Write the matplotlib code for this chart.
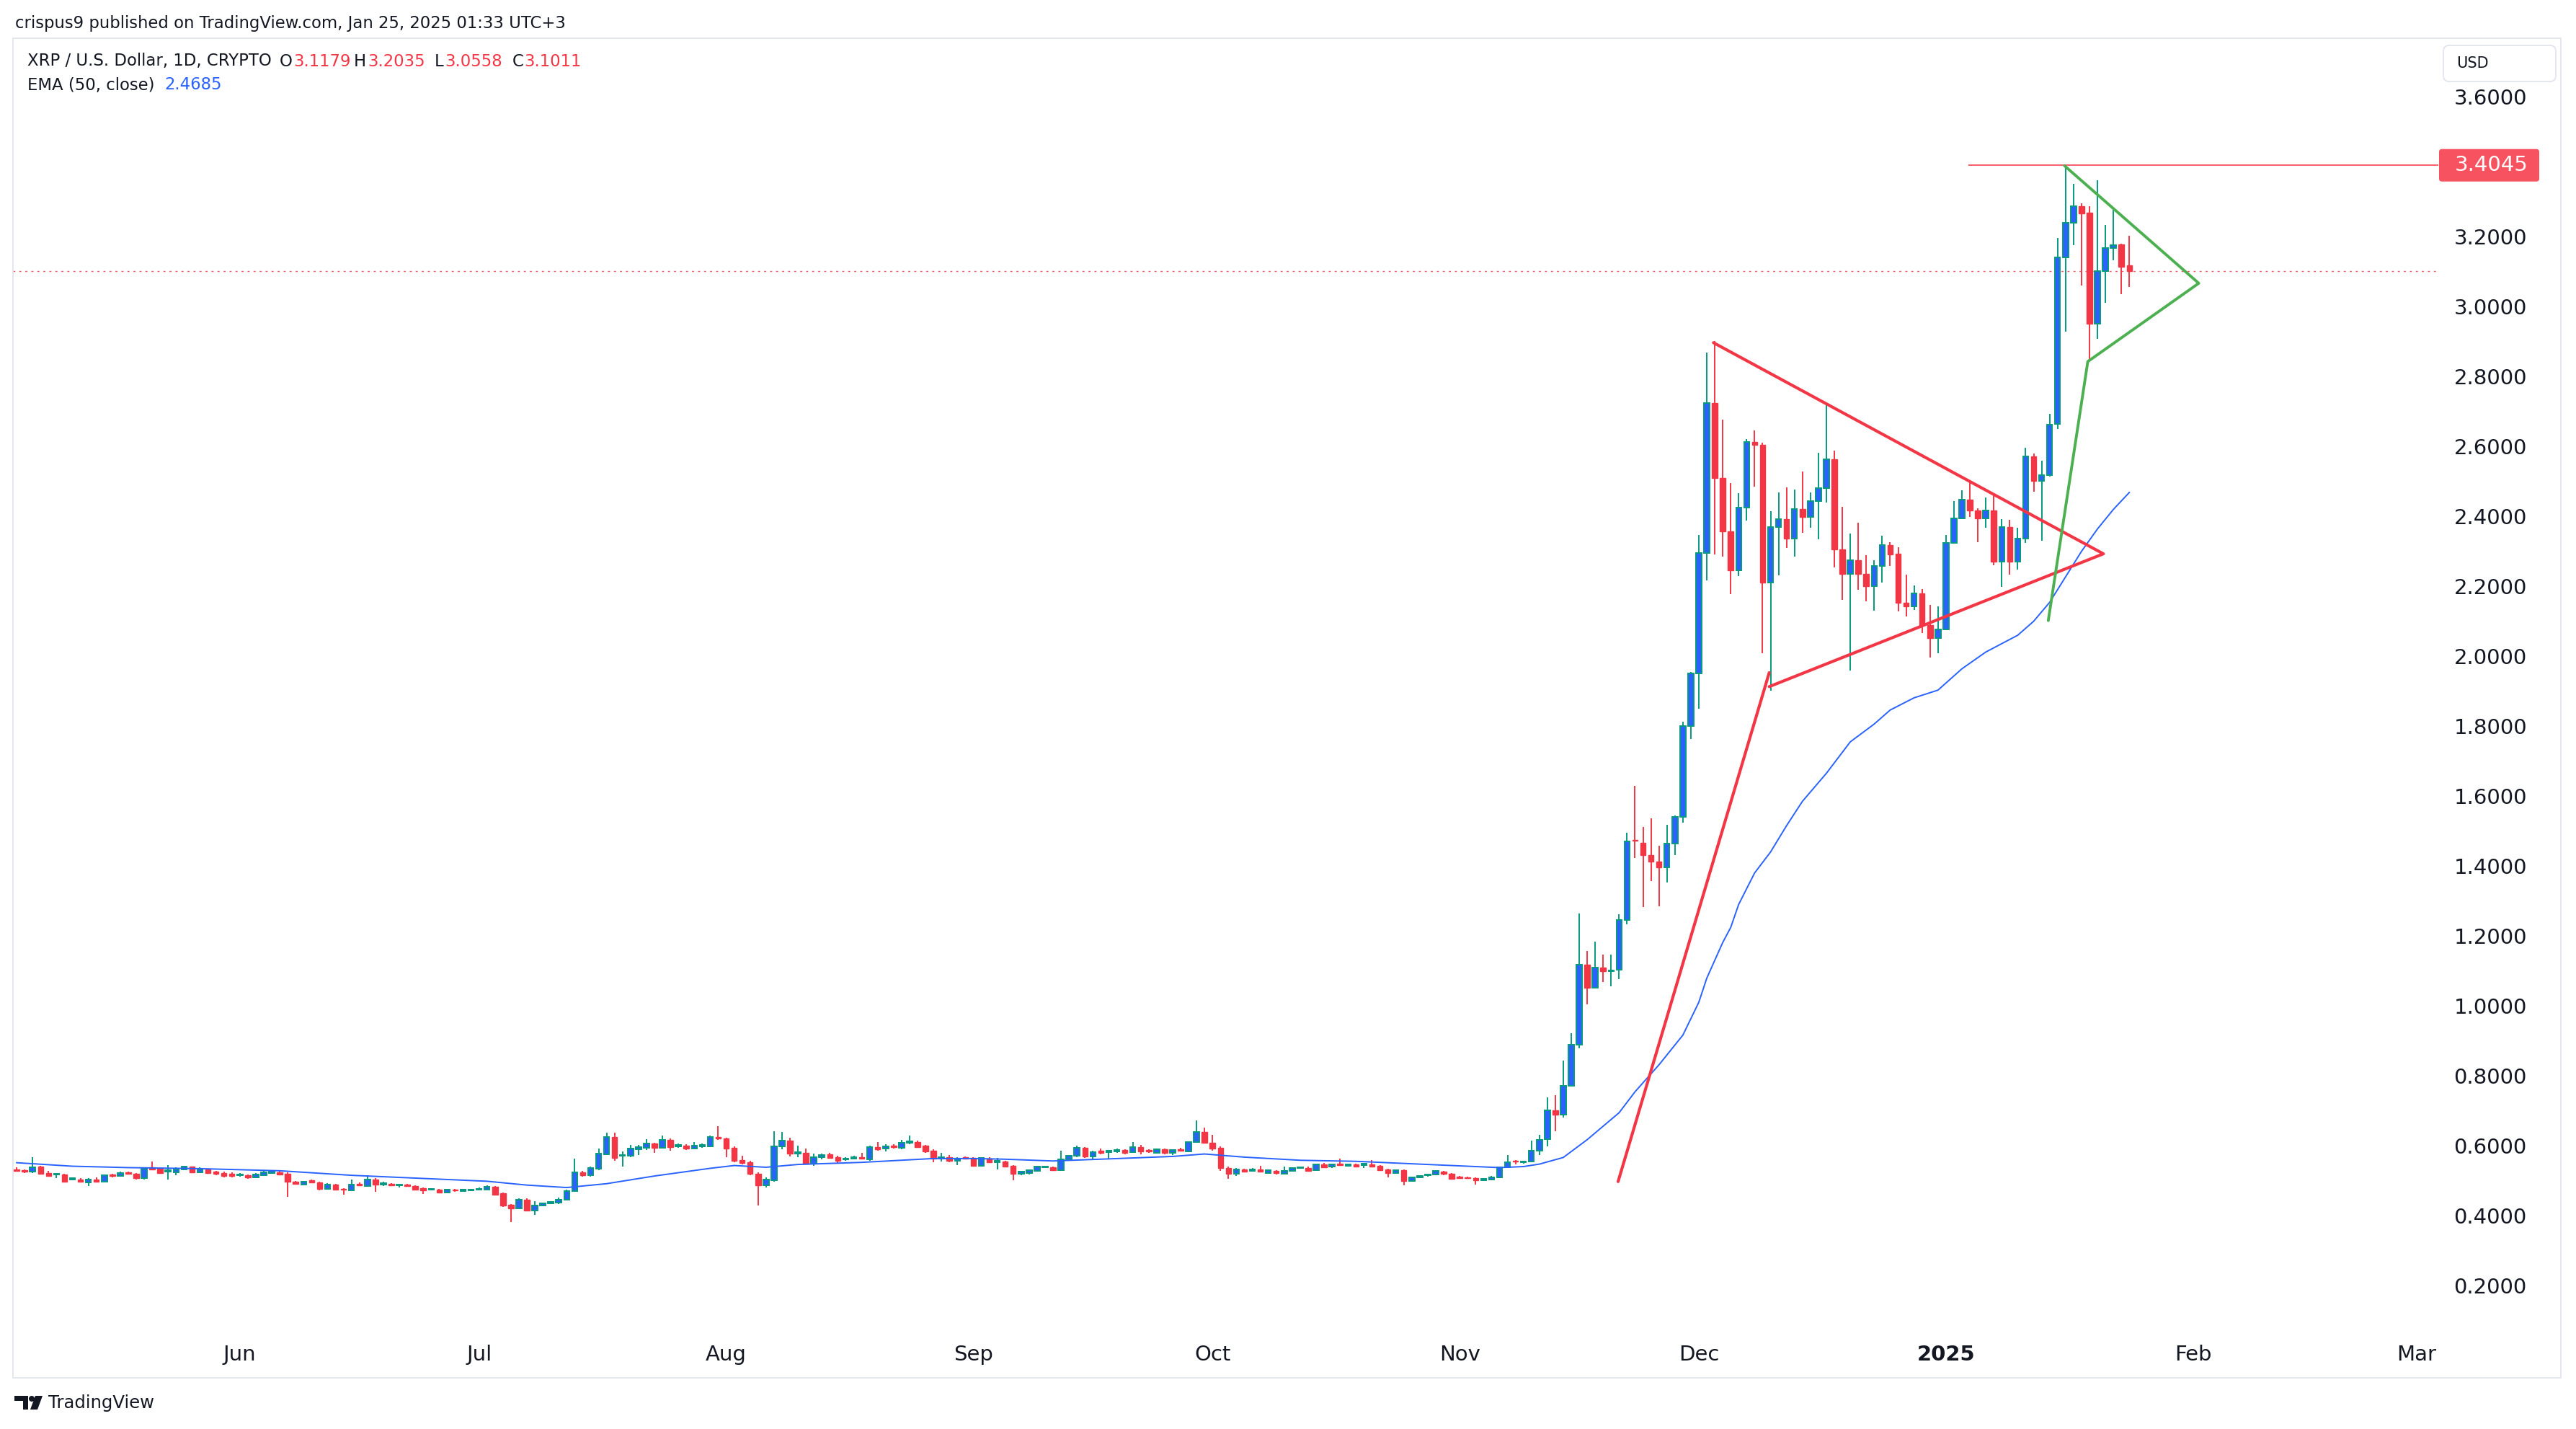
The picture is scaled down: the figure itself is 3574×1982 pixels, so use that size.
import numpy as np
import pandas as pd
import matplotlib
matplotlib.use('Agg')
import matplotlib.pyplot as plt
import matplotlib.dates as mdates
from matplotlib.patches import Rectangle, FancyBboxPatch, Circle, Polygon

# ── Daily XRP / USD candles (open, high, low, close) ──────
may_ohlc = [
    (.532, .538, .526, .528), (.530, .532, .522, .525), (.525, .567, .522, .538), (.539, .543, .519, .520),
    (.522, .527, .513, .514), (.517, .522, .508, .520), (.517, .519, .494, .497), (.503, .506, .500, .504),
    (.503, .506, .494, .496), (.495, .506, .484, .503), (.503, .510, .494, .496), (.496, .518, .494, .515),
    (.517, .520, .510, .513), (.513, .525, .511, .522), (.523, .526, .517, .519), (.520, .522, .503, .506),
    (.506, .538, .503, .534), (.538, .554, .530, .532), (.534, .536, .519, .522), (.526, .545, .503, .528),
    (.524, .538, .516, .532), (.532, .541, .530, .539), (.539, .541, .522, .524), (.524, .537, .521, .532),
    (.531, .534, .519, .522), (.525, .527, .516, .519), (.522, .525, .510, .513), (.519, .523, .510, .514),
]
jun_ohlc = [
    (.515, .521, .512, .518), (.515, .518, .505, .510), (.510, .521, .508, .518), (.516, .527, .514, .524),
    (.522, .530, .520, .527), (.524, .527, .516, .518), (.520, .523, .453, .496), (.497, .499, .488, .490),
    (.489, .498, .487, .496), (.500, .503, .493, .495), (.495, .497, .471, .476), (.476, .492, .474, .488),
    (.488, .490, .471, .473), (.477, .479, .460, .473), (.471, .503, .469, .488), (.491, .494, .484, .486),
    (.484, .515, .483, .503), (.503, .506, .468, .488), (.489, .496, .484, .492), (.490, .492, .484, .486),
    (.486, .491, .480, .488), (.488, .490, .482, .484), (.484, .486, .472, .474), (.479, .481, .462, .471),
    (.473, .479, .471, .477), (.474, .476, .464, .466), (.466, .475, .464, .473), (.474, .477, .467, .471),
    (.470, .475, .468, .473), (.471, .476, .469, .474),
]
jul_ohlc = [
    (.473, .480, .471, .477), (.473, .486, .471, .483), (.483, .485, .459, .460), (.464, .466, .425, .429),
    (.431, .433, .381, .421), (.421, .449, .418, .446), (.446, .449, .412, .414), (.414, .442, .402, .428),
    (.429, .437, .426, .434), (.435, .442, .432, .439), (.436, .451, .433, .446), (.446, .473, .444, .470),
    (.470, .563, .468, .523), (.523, .528, .512, .515), (.515, .539, .512, .536), (.534, .591, .530, .577),
    (.576, .636, .572, .624), (.624, .636, .556, .565), (.570, .584, .539, .573), (.570, .601, .567, .591),
    (.590, .601, .572, .596), (.594, .618, .587, .606), (.606, .609, .580, .594), (.594, .629, .591, .616),
    (.616, .620, .585, .596), (.598, .606, .594, .602), (.600, .604, .588, .592), (.592, .611, .589, .600),
    (.598, .606, .594, .602), (.598, .628, .595, .624), (.624, .655, .616, .620),
]
aug_ohlc = [
    (.620, .622, .567, .592), (.593, .597, .552, .556), (.558, .570, .546, .550), (.552, .556, .515, .519),
    (.520, .523, .429, .486), (.486, .510, .480, .503), (.501, .641, .497, .598), (.598, .639, .590, .615),
    (.615, .622, .568, .578), (.578, .599, .567, .582), (.580, .591, .546, .548), (.548, .577, .543, .566),
    (.566, .578, .560, .574), (.575, .579, .562, .565), (.567, .570, .550, .556), (.560, .566, .556, .563),
    (.563, .570, .560, .567), (.566, .580, .560, .563), (.560, .600, .557, .596), (.596, .611, .585, .590),
    (.591, .603, .584, .598), (.600, .604, .592, .596), (.594, .616, .590, .608), (.609, .629, .603, .613),
    (.610, .614, .593, .596), (.599, .602, .580, .584), (.585, .589, .553, .562), (.563, .580, .554, .567),
    (.566, .572, .553, .556), (.556, .566, .545, .563), (.565, .568, .561, .563),
]
sep_ohlc = [
    (.565, .567, .541, .543), (.543, .566, .540, .565), (.563, .566, .550, .553), (.553, .564, .532, .555),
    (.554, .557, .538, .541), (.543, .545, .501, .519), (.519, .527, .516, .525), (.522, .531, .518, .529),
    (.527, .541, .525, .539), (.538, .543, .535, .540), (.537, .540, .527, .530), (.530, .585, .528, .560),
    (.560, .573, .557, .570), (.570, .599, .567, .594), (.593, .596, .565, .568), (.568, .586, .560, .582),
    (.585, .591, .576, .580), (.582, .587, .563, .585), (.584, .591, .580, .587), (.587, .590, .576, .579),
    (.582, .610, .579, .596), (.596, .601, .576, .583), (.587, .590, .580, .583), (.580, .592, .577, .589),
    (.589, .592, .576, .579), (.579, .590, .574, .587), (.590, .593, .583, .586), (.584, .613, .582, .611),
    (.611, .673, .608, .639), (.639, .651, .605, .608),
]
oct_ohlc = [
    (.609, .631, .585, .591), (.593, .597, .528, .535), (.536, .540, .505, .519), (.519, .536, .513, .531),
    (.531, .534, .524, .526), (.528, .535, .525, .532), (.532, .543, .523, .525), (.522, .531, .519, .529),
    (.527, .530, .518, .522), (.520, .541, .517, .527), (.527, .538, .525, .536), (.535, .540, .533, .538),
    (.536, .539, .525, .527), (.529, .549, .527, .546), (.546, .550, .535, .538), (.539, .548, .536, .546),
    (.547, .563, .544, .545), (.543, .548, .541, .545), (.546, .548, .539, .541), (.545, .549, .536, .547),
    (.547, .558, .539, .541), (.542, .545, .528, .530), (.532, .534, .510, .522), (.522, .532, .519, .529),
    (.529, .532, .486, .498), (.498, .512, .496, .510), (.510, .515, .507, .512), (.515, .520, .512, .518),
    (.517, .530, .515, .527), (.526, .528, .516, .519), (.520, .522, .502, .505),
]
nov_ohlc = [
    (.511, .513, .504, .507), (.509, .511, .505, .507), (.508, .510, .489, .500), (.501, .507, .498, .505),
    (.502, .513, .500, .510), (.510, .541, .508, .538), (.538, .574, .536, .553), (.556, .558, .547, .554),
    (.552, .557, .549, .555), (.555, .615, .553, .585), (.585, .630, .572, .617), (.619, .737, .597, .701),
    (.701, .745, .641, .688), (.688, .844, .681, .771), (.771, .922, .768, .889), (.889, 1.264, .878, 1.117),
    (1.117, 1.156, 1.004, 1.051), (1.051, 1.183, 1.050, 1.110), (1.110, 1.146, 1.069, 1.098), (1.098, 1.147, 1.056, 1.100),
    (1.103, 1.261, 1.077, 1.245), (1.245, 1.496, 1.233, 1.470), (1.474, 1.629, 1.423, 1.472), (1.466, 1.511, 1.282, 1.431),
    (1.431, 1.536, 1.357, 1.412), (1.412, 1.457, 1.284, 1.395), (1.395, 1.517, 1.352, 1.465), (1.465, 1.545, 1.432, 1.540),
    (1.540, 1.813, 1.523, 1.800), (1.800, 1.954, 1.763, 1.951),
]
dec_ohlc = [
    (1.951, 2.347, 1.850, 2.296), (2.296, 2.868, 2.217, 2.724), (2.724, 2.902, 2.292, 2.509), (2.509, 2.677, 2.286, 2.357),
    (2.357, 2.496, 2.177, 2.245), (2.245, 2.466, 2.229, 2.425), (2.425, 2.621, 2.389, 2.613), (2.613, 2.646, 2.485, 2.604),
    (2.604, 2.610, 2.009, 2.211), (2.211, 2.414, 1.901, 2.369), (2.369, 2.468, 2.231, 2.393), (2.393, 2.483, 2.310, 2.337),
    (2.337, 2.477, 2.286, 2.422), (2.422, 2.529, 2.353, 2.398), (2.398, 2.469, 2.367, 2.443), (2.443, 2.582, 2.335, 2.481),
    (2.481, 2.724, 2.440, 2.564), (2.564, 2.588, 2.255, 2.306), (2.306, 2.428, 2.162, 2.235), (2.235, 2.351, 1.960, 2.274),
    (2.274, 2.381, 2.191, 2.235), (2.235, 2.289, 2.158, 2.200), (2.200, 2.274, 2.130, 2.258), (2.258, 2.345, 2.211, 2.318),
    (2.318, 2.327, 2.258, 2.292), (2.293, 2.312, 2.128, 2.152), (2.152, 2.234, 2.114, 2.142), (2.142, 2.203, 2.132, 2.179),
    (2.179, 2.192, 2.067, 2.089), (2.089, 2.146, 1.996, 2.051), (2.051, 2.142, 2.009, 2.077),
]
jan_ohlc = [
    (2.077, 2.347, 2.075, 2.325), (2.325, 2.444, 2.323, 2.395), (2.395, 2.474, 2.393, 2.448), (2.448, 2.501, 2.399, 2.416),
    (2.416, 2.424, 2.327, 2.395), (2.395, 2.455, 2.367, 2.416), (2.416, 2.462, 2.260, 2.270), (2.270, 2.393, 2.199, 2.369),
    (2.369, 2.391, 2.234, 2.270), (2.270, 2.367, 2.247, 2.337), (2.337, 2.597, 2.324, 2.572), (2.572, 2.580, 2.470, 2.501),
    (2.501, 2.559, 2.331, 2.518), (2.518, 2.694, 2.513, 2.663), (2.664, 3.196, 2.650, 3.140), (3.140, 3.4045, 2.928, 3.239),
    (3.239, 3.351, 3.177, 3.288), (3.288, 3.296, 3.061, 3.267), (3.268, 3.287, 2.843, 2.951), (2.951, 3.362, 2.908, 3.101),
    (3.101, 3.233, 3.012, 3.167), (3.167, 3.282, 3.133, 3.177), (3.179, 3.180, 3.036, 3.115), (3.1179, 3.2035, 3.0558, 3.1011),
]
first_day = '2024-05-04'

# ── EMA (50, close) ───────────────────────────────────────
ema_dates = ['2024-05-04', '2024-05-11', '2024-05-18', '2024-05-27', '2024-06-06', '2024-06-15',
             '2024-06-25', '2024-07-02', '2024-07-07', '2024-07-12', '2024-07-17', '2024-07-23',
             '2024-07-30', '2024-08-02', '2024-08-06', '2024-08-10', '2024-08-18', '2024-08-27',
             '2024-09-01', '2024-09-05', '2024-09-11', '2024-09-18', '2024-09-26', '2024-09-30',
             '2024-10-05', '2024-10-12', '2024-10-19', '2024-10-26', '2024-11-02', '2024-11-06',
             '2024-11-09', '2024-11-11', '2024-11-14', '2024-11-17', '2024-11-21', '2024-11-23',
             '2024-11-26', '2024-11-29', '2024-12-01', '2024-12-02', '2024-12-04', '2024-12-05',
             '2024-12-06', '2024-12-08', '2024-12-10', '2024-12-12', '2024-12-14', '2024-12-17',
             '2024-12-20', '2024-12-23', '2024-12-25', '2024-12-28', '2024-12-31', '2025-01-03',
             '2025-01-06', '2025-01-10', '2025-01-12', '2025-01-14', '2025-01-18', '2025-01-20',
             '2025-01-22', '2025-01-24']
ema_values = [0.551, 0.541, 0.537, 0.534, 0.528, 0.515,
              0.505, 0.498, 0.487, 0.480, 0.491, 0.513,
              0.535, 0.543, 0.538, 0.546, 0.552, 0.563,
              0.563, 0.561, 0.556, 0.562, 0.569, 0.576,
              0.567, 0.558, 0.555, 0.548, 0.541, 0.537,
              0.540, 0.547, 0.566, 0.617, 0.694, 0.754,
              0.831, 0.916, 1.010, 1.079, 1.181, 1.224,
              1.290, 1.380, 1.440, 1.515, 1.585, 1.665,
              1.755, 1.806, 1.846, 1.881, 1.903, 1.964,
              2.012, 2.060, 2.100, 2.154, 2.300, 2.364,
              2.420, 2.4685]

# ── Chart drawings (anchor date, price) ───────────────────
red_leg = [('2024-11-20 21:00', 0.497), ('2024-12-09 20:00', 1.953)]
red_triangle = [('2024-12-09 20:00', 1.913), ('2025-01-20 18:00', 2.293), ('2024-12-02 20:00', 2.897)]
green_flag = [('2025-01-13 20:00', 2.102), ('2025-01-18 19:00', 2.843),
              ('2025-02-01 17:00', 3.067), ('2025-01-15 21:00', 3.403)]
high_level = 3.4045
high_level_start = '2025-01-03 19:00'
last_close = 3.1011

month_ticks = ['2024-06-01', '2024-07-01', '2024-08-01', '2024-09-01', '2024-10-01',
               '2024-11-01', '2024-12-01', '2025-01-01', '2025-02-01', '2025-03-01']
month_labels = ['Jun', 'Jul', 'Aug', 'Sep', 'Oct', 'Nov', 'Dec', '2025', 'Feb', 'Mar']
price_ticks = [0.2, 0.4, 0.6, 0.8, 1.0, 1.2, 1.4, 1.6, 1.8, 2.0, 2.2, 2.4, 2.6, 2.8, 3.0, 3.2, 3.6]

# ── Colours ───────────────────────────────────────────────
UP_EDGE = '#089981'
UP_FILL = '#2962ff'
DOWN = '#f23645'
EMA_C = '#2962ff'
TEXT = '#131722'
BORDER = '#e0e3eb'

W, H = 3574, 1982
fig = plt.figure(figsize=(W / 100, H / 100), dpi=100)
fig.patch.set_facecolor('white')

# plot area in pixels: x 18..3383, y 53..1837
ax = fig.add_axes([18 / W, 1 - 1837 / H, (3383 - 18) / W, (1837 - 53) / H])
ax.set_facecolor('none')

ohlc = np.array(may_ohlc + jun_ohlc + jul_ohlc + aug_ohlc + sep_ohlc +
                oct_ohlc + nov_ohlc + dec_ohlc + jan_ohlc)
o, hi, lo, c = ohlc.T
dates = pd.date_range(first_day, periods=len(ohlc), freq='D')
x = mdates.date2num(dates)
up = c >= o

# wicks
ax.vlines(x[up], lo[up], hi[up], color=UP_EDGE, lw=1.4, zorder=2)
ax.vlines(x[~up], lo[~up], hi[~up], color=DOWN, lw=1.4, zorder=2)
# bodies
body = np.maximum(np.abs(c - o), 0.003)
ax.bar(x[up], body[up], bottom=o[up], width=0.68, color=UP_FILL,
       edgecolor=UP_EDGE, linewidth=1.4, zorder=3)
ax.bar(x[~up], body[~up], bottom=c[~up], width=0.68, color=DOWN,
       edgecolor=DOWN, linewidth=1.0, zorder=3)

# EMA
ax.plot(mdates.date2num(pd.to_datetime(ema_dates)), ema_values, color=EMA_C, lw=1.4, zorder=4)

# ── Axis limits ───────────────────────────────────────────
jun1 = mdates.date2num(pd.Timestamp('2024-06-01'))
x_left, x_right = jun1 - 28.46, jun1 + 275.76
ax.set_xlim(x_left, x_right)
ax.set_ylim(0.0883, 3.768)

# last price dotted line and the high level
ax.axhline(last_close, color=DOWN, lw=1.0, linestyle=(0, (2, 4)), alpha=0.85, zorder=1)
ax.hlines(high_level, mdates.date2num(pd.Timestamp(high_level_start)), x_right,
          color='#f7525f', lw=1.3, zorder=4)


def draw_poly(points, color, lw):
    px = mdates.date2num(pd.to_datetime([p[0] for p in points]))
    py = [p[1] for p in points]
    ax.plot(px, py, color=color, lw=lw, solid_capstyle='round',
            solid_joinstyle='round', zorder=5)


draw_poly(red_leg, DOWN, 3.0)
draw_poly(red_triangle, DOWN, 3.0)
draw_poly(green_flag, '#4caf50', 2.8)

# ── Ticks ─────────────────────────────────────────────────
for s in ax.spines.values():
    s.set_visible(False)
ax.yaxis.tick_right()
ax.set_yticks(price_ticks)
ax.set_yticklabels([f'{v:.4f}' for v in price_ticks])
ax.set_xticks(mdates.date2num(pd.to_datetime(month_ticks)))
ax.set_xticklabels(month_labels)
ax.tick_params(axis='y', length=0, pad=15.5, labelsize=21, labelcolor=TEXT)
ax.tick_params(axis='x', length=0, pad=20, labelsize=21, labelcolor=TEXT)
for lbl in ax.get_xticklabels():
    if lbl.get_text() == '2025':
        lbl.set_fontweight('bold')

# ── Frame, header and labels in pixel space ───────────────
deco = fig.add_axes([0, 0, 1, 1], zorder=5)
deco.set_xlim(0, W)
deco.set_ylim(H, 0)
deco.axis('off')
deco.patch.set_alpha(0)

deco.add_patch(Rectangle((18, 53), 3553 - 18, 1911 - 53, fill=False, ec=BORDER, lw=1.2))

HDR = 16.4
deco.text(21, 33, 'crispus9 published on TradingView.com, Jan 25, 2025 01:33 UTC+3',
          fontsize=HDR, color=TEXT, va='center', ha='left')

hdr_y = 85
deco.text(38, hdr_y, 'XRP / U.S. Dollar, 1D, CRYPTO', fontsize=HDR, color=TEXT, va='center')
for lab, val, xl, xv in [('O', '3.1179', 388, 407), ('H', '3.2035', 491, 510),
                         ('L', '3.0558', 603, 617), ('C', '3.1011', 711, 727)]:
    deco.text(xl, hdr_y, lab, fontsize=HDR, color=TEXT, va='center')
    deco.text(xv, hdr_y, val, fontsize=HDR, color=DOWN, va='center')
deco.text(38, 118, 'EMA (50, close)', fontsize=HDR, color=TEXT, va='center')
deco.text(228, 118, '2.4685', fontsize=HDR, color=EMA_C, va='center')

# USD unit box
deco.add_patch(FancyBboxPatch((3390, 63), 156, 50, boxstyle='round,pad=0,rounding_size=8',
                              fc='white', ec=BORDER, lw=1.2))
deco.text(3408, 88, 'USD', fontsize=15, color=TEXT, va='center')

# price label for the high level
_, ypix = ax.transData.transform((x_right, high_level))
ylab = H - ypix
deco.add_patch(FancyBboxPatch((3384, ylab - 22.5), 139, 45, boxstyle='round,pad=0,rounding_size=4',
                              fc='#f7525f', ec='none'))
deco.text(3406, ylab, f'{high_level:.4f}', fontsize=21, color='white', va='center')

# TradingView logo
deco.add_patch(Rectangle((20, 1936), 19, 7, fc=TEXT, ec='none'))
deco.add_patch(Rectangle((32, 1936), 7, 19, fc=TEXT, ec='none'))
deco.add_patch(Circle((44, 1940), 4, fc=TEXT, ec='none'))
deco.add_patch(Polygon([(49, 1936), (59, 1936), (52, 1955), (42, 1955)], fc=TEXT, ec='none'))
deco.text(67, 1946, 'TradingView', fontsize=17.5, color=TEXT, va='center')

fig.savefig('out.png', dpi=100, facecolor='white')
